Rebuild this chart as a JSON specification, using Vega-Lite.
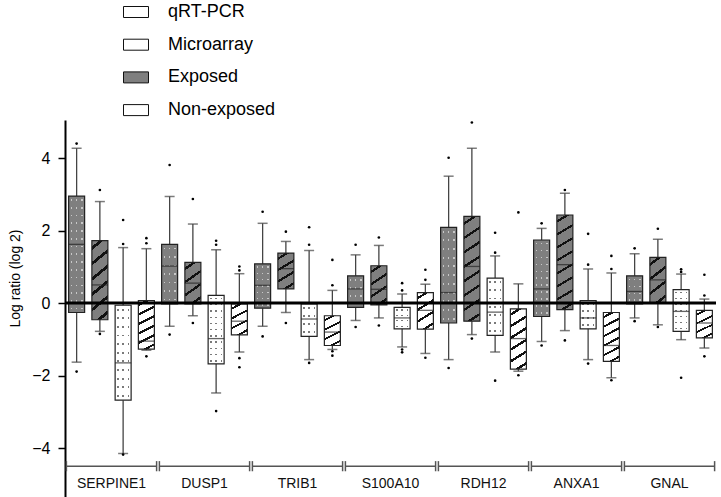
{
  "$schema": "https://vega.github.io/schema/vega-lite/v6.json",
  "width": 651,
  "height": 377,
  "autosize": {"type": "none"},
  "padding": {"left": 65, "top": 120, "right": 5, "bottom": 0},
  "background": "white",
  "config": {
    "view": {"stroke": null},
    "font": "Liberation Sans",
    "axisY": {"domainColor": "black", "domainWidth": 2, "tickColor": "black", "tickWidth": 1.5, "tickSize": 7, "labelFontSize": 16, "labelColor": "black", "labelPadding": 8, "grid": false, "titleFontSize": 14, "titleFontWeight": "normal", "titleColor": "black", "titleX": -50, "titleY": 158, "titleBaseline": "middle"}
  },
  "datasets": {
    "boxes": [
      {"gene": "SERPINE1", "group": "Exposed", "method": "qRT-PCR", "series": "Exposed qRT-PCR", "lo": -1.63, "q1": -0.26, "med": 1.62, "q3": 2.95, "hi": 4.27},
      {"gene": "SERPINE1", "group": "Exposed", "method": "Microarray", "series": "Exposed Microarray", "lo": -0.78, "q1": -0.46, "med": 0.5, "q3": 1.72, "hi": 2.8},
      {"gene": "SERPINE1", "group": "Non-exposed", "method": "qRT-PCR", "series": "Non-exposed qRT-PCR", "lo": -4.15, "q1": -2.68, "med": -1.65, "q3": -0.06, "hi": 1.53},
      {"gene": "SERPINE1", "group": "Non-exposed", "method": "Microarray", "series": "Non-exposed Microarray", "lo": -1.3, "q1": -1.27, "med": -1.05, "q3": 0.07, "hi": 1.5},
      {"gene": "DUSP1", "group": "Exposed", "method": "qRT-PCR", "series": "Exposed qRT-PCR", "lo": -0.64, "q1": -0.02, "med": 1.02, "q3": 1.62, "hi": 2.94},
      {"gene": "DUSP1", "group": "Exposed", "method": "Microarray", "series": "Exposed Microarray", "lo": -0.35, "q1": -0.02, "med": 0.55, "q3": 1.12, "hi": 2.18},
      {"gene": "DUSP1", "group": "Non-exposed", "method": "qRT-PCR", "series": "Non-exposed qRT-PCR", "lo": -2.48, "q1": -1.68, "med": -0.98, "q3": 0.21, "hi": 1.47},
      {"gene": "DUSP1", "group": "Non-exposed", "method": "Microarray", "series": "Non-exposed Microarray", "lo": -1.35, "q1": -0.88, "med": -0.5, "q3": -0.02, "hi": 0.81},
      {"gene": "TRIB1", "group": "Exposed", "method": "qRT-PCR", "series": "Exposed qRT-PCR", "lo": -0.64, "q1": -0.14, "med": 0.49, "q3": 1.08, "hi": 2.2},
      {"gene": "TRIB1", "group": "Exposed", "method": "Microarray", "series": "Exposed Microarray", "lo": -0.26, "q1": 0.39, "med": 0.95, "q3": 1.38, "hi": 1.7},
      {"gene": "TRIB1", "group": "Non-exposed", "method": "qRT-PCR", "series": "Non-exposed qRT-PCR", "lo": -1.56, "q1": -0.92, "med": -0.44, "q3": -0.02, "hi": 1.45},
      {"gene": "TRIB1", "group": "Non-exposed", "method": "Microarray", "series": "Non-exposed Microarray", "lo": -1.28, "q1": -1.17, "med": -0.8, "q3": -0.35, "hi": 0.35},
      {"gene": "S100A10", "group": "Exposed", "method": "qRT-PCR", "series": "Exposed qRT-PCR", "lo": -0.48, "q1": -0.12, "med": 0.39, "q3": 0.75, "hi": 1.33},
      {"gene": "S100A10", "group": "Exposed", "method": "Microarray", "series": "Exposed Microarray", "lo": -0.41, "q1": -0.05, "med": 0.38, "q3": 1.03, "hi": 1.59},
      {"gene": "S100A10", "group": "Non-exposed", "method": "qRT-PCR", "series": "Non-exposed qRT-PCR", "lo": -1.21, "q1": -0.71, "med": -0.41, "q3": -0.12, "hi": 0.25},
      {"gene": "S100A10", "group": "Non-exposed", "method": "Microarray", "series": "Non-exposed Microarray", "lo": -1.39, "q1": -0.72, "med": -0.2, "q3": 0.29, "hi": 0.52},
      {"gene": "RDH12", "group": "Exposed", "method": "qRT-PCR", "series": "Exposed qRT-PCR", "lo": -1.56, "q1": -0.55, "med": 0.29, "q3": 2.09, "hi": 3.5},
      {"gene": "RDH12", "group": "Exposed", "method": "Microarray", "series": "Exposed Microarray", "lo": -0.87, "q1": -0.5, "med": 1.01, "q3": 2.39, "hi": 4.27},
      {"gene": "RDH12", "group": "Non-exposed", "method": "qRT-PCR", "series": "Non-exposed qRT-PCR", "lo": -1.35, "q1": -0.89, "med": -0.25, "q3": 0.69, "hi": 1.3},
      {"gene": "RDH12", "group": "Non-exposed", "method": "Microarray", "series": "Non-exposed Microarray", "lo": -1.88, "q1": -1.82, "med": -0.98, "q3": -0.16, "hi": 0.53},
      {"gene": "ANXA1", "group": "Exposed", "method": "qRT-PCR", "series": "Exposed qRT-PCR", "lo": -1.06, "q1": -0.37, "med": 0.39, "q3": 1.74, "hi": 2.06},
      {"gene": "ANXA1", "group": "Exposed", "method": "Microarray", "series": "Exposed Microarray", "lo": -0.76, "q1": -0.18, "med": 1.06, "q3": 2.43, "hi": 3.03},
      {"gene": "ANXA1", "group": "Non-exposed", "method": "qRT-PCR", "series": "Non-exposed qRT-PCR", "lo": -1.56, "q1": -0.71, "med": -0.41, "q3": 0.07, "hi": 0.94},
      {"gene": "ANXA1", "group": "Non-exposed", "method": "Microarray", "series": "Non-exposed Microarray", "lo": -2.06, "q1": -1.61, "med": -1.17, "q3": -0.26, "hi": 0.83},
      {"gene": "GNAL", "group": "Exposed", "method": "qRT-PCR", "series": "Exposed qRT-PCR", "lo": -0.41, "q1": -0.02, "med": 0.32, "q3": 0.75, "hi": 1.36},
      {"gene": "GNAL", "group": "Exposed", "method": "Microarray", "series": "Exposed Microarray", "lo": -0.6, "q1": 0.0, "med": 0.64, "q3": 1.26, "hi": 1.76},
      {"gene": "GNAL", "group": "Non-exposed", "method": "qRT-PCR", "series": "Non-exposed qRT-PCR", "lo": -1.01, "q1": -0.78, "med": -0.23, "q3": 0.37, "hi": 0.8},
      {"gene": "GNAL", "group": "Non-exposed", "method": "Microarray", "series": "Non-exposed Microarray", "lo": -1.24, "q1": -0.96, "med": -0.55, "q3": -0.2, "hi": 0.11}
    ],
    "outliers": [
      {"gene": "SERPINE1", "series": "Exposed qRT-PCR", "value": 4.4},
      {"gene": "SERPINE1", "series": "Exposed qRT-PCR", "value": -1.89},
      {"gene": "SERPINE1", "series": "Exposed Microarray", "value": 3.12},
      {"gene": "SERPINE1", "series": "Exposed Microarray", "value": -0.85},
      {"gene": "SERPINE1", "series": "Non-exposed qRT-PCR", "value": 2.29},
      {"gene": "SERPINE1", "series": "Non-exposed qRT-PCR", "value": 1.63},
      {"gene": "SERPINE1", "series": "Non-exposed qRT-PCR", "value": -4.18},
      {"gene": "SERPINE1", "series": "Non-exposed Microarray", "value": 1.79},
      {"gene": "SERPINE1", "series": "Non-exposed Microarray", "value": 1.65},
      {"gene": "SERPINE1", "series": "Non-exposed Microarray", "value": -1.47},
      {"gene": "DUSP1", "series": "Exposed qRT-PCR", "value": 3.81},
      {"gene": "DUSP1", "series": "Exposed qRT-PCR", "value": -0.87},
      {"gene": "DUSP1", "series": "Exposed Microarray", "value": 2.87},
      {"gene": "DUSP1", "series": "Exposed Microarray", "value": -0.55},
      {"gene": "DUSP1", "series": "Non-exposed qRT-PCR", "value": 1.72},
      {"gene": "DUSP1", "series": "Non-exposed qRT-PCR", "value": 1.61},
      {"gene": "DUSP1", "series": "Non-exposed qRT-PCR", "value": -2.98},
      {"gene": "DUSP1", "series": "Non-exposed Microarray", "value": 1.01},
      {"gene": "DUSP1", "series": "Non-exposed Microarray", "value": 0.9},
      {"gene": "DUSP1", "series": "Non-exposed Microarray", "value": -1.52},
      {"gene": "DUSP1", "series": "Non-exposed Microarray", "value": -1.77},
      {"gene": "TRIB1", "series": "Exposed qRT-PCR", "value": 2.52},
      {"gene": "TRIB1", "series": "Exposed qRT-PCR", "value": -0.92},
      {"gene": "TRIB1", "series": "Exposed Microarray", "value": 1.97},
      {"gene": "TRIB1", "series": "Exposed Microarray", "value": -0.55},
      {"gene": "TRIB1", "series": "Non-exposed qRT-PCR", "value": 2.09},
      {"gene": "TRIB1", "series": "Non-exposed qRT-PCR", "value": 1.61},
      {"gene": "TRIB1", "series": "Non-exposed qRT-PCR", "value": -1.65},
      {"gene": "TRIB1", "series": "Non-exposed Microarray", "value": 1.19},
      {"gene": "TRIB1", "series": "Non-exposed Microarray", "value": 0.49},
      {"gene": "TRIB1", "series": "Non-exposed Microarray", "value": -1.33},
      {"gene": "TRIB1", "series": "Non-exposed Microarray", "value": -1.45},
      {"gene": "S100A10", "series": "Exposed qRT-PCR", "value": 1.61},
      {"gene": "S100A10", "series": "Exposed qRT-PCR", "value": -0.66},
      {"gene": "S100A10", "series": "Exposed Microarray", "value": 1.81},
      {"gene": "S100A10", "series": "Exposed Microarray", "value": -0.62},
      {"gene": "S100A10", "series": "Non-exposed qRT-PCR", "value": 0.55},
      {"gene": "S100A10", "series": "Non-exposed qRT-PCR", "value": 0.35},
      {"gene": "S100A10", "series": "Non-exposed qRT-PCR", "value": -1.28},
      {"gene": "S100A10", "series": "Non-exposed qRT-PCR", "value": -1.36},
      {"gene": "S100A10", "series": "Non-exposed Microarray", "value": 0.92},
      {"gene": "S100A10", "series": "Non-exposed Microarray", "value": 0.64},
      {"gene": "S100A10", "series": "Non-exposed Microarray", "value": -1.51},
      {"gene": "RDH12", "series": "Exposed qRT-PCR", "value": 4.01},
      {"gene": "RDH12", "series": "Exposed qRT-PCR", "value": -1.79},
      {"gene": "RDH12", "series": "Exposed Microarray", "value": 4.98},
      {"gene": "RDH12", "series": "Exposed Microarray", "value": -0.98},
      {"gene": "RDH12", "series": "Non-exposed qRT-PCR", "value": 1.94},
      {"gene": "RDH12", "series": "Non-exposed qRT-PCR", "value": 1.39},
      {"gene": "RDH12", "series": "Non-exposed qRT-PCR", "value": -2.14},
      {"gene": "RDH12", "series": "Non-exposed Microarray", "value": 2.5},
      {"gene": "RDH12", "series": "Non-exposed Microarray", "value": -1.99},
      {"gene": "ANXA1", "series": "Exposed qRT-PCR", "value": 2.2},
      {"gene": "ANXA1", "series": "Exposed qRT-PCR", "value": -1.17},
      {"gene": "ANXA1", "series": "Exposed Microarray", "value": 3.12},
      {"gene": "ANXA1", "series": "Exposed Microarray", "value": -1.03},
      {"gene": "ANXA1", "series": "Non-exposed qRT-PCR", "value": 1.91},
      {"gene": "ANXA1", "series": "Non-exposed qRT-PCR", "value": 1.06},
      {"gene": "ANXA1", "series": "Non-exposed qRT-PCR", "value": -1.67},
      {"gene": "ANXA1", "series": "Non-exposed Microarray", "value": 1.3},
      {"gene": "ANXA1", "series": "Non-exposed Microarray", "value": 0.94},
      {"gene": "ANXA1", "series": "Non-exposed Microarray", "value": -2.13},
      {"gene": "GNAL", "series": "Exposed qRT-PCR", "value": 1.51},
      {"gene": "GNAL", "series": "Exposed qRT-PCR", "value": -0.5},
      {"gene": "GNAL", "series": "Exposed Microarray", "value": 2.05},
      {"gene": "GNAL", "series": "Exposed Microarray", "value": -0.66},
      {"gene": "GNAL", "series": "Non-exposed qRT-PCR", "value": 0.93},
      {"gene": "GNAL", "series": "Non-exposed qRT-PCR", "value": 0.86},
      {"gene": "GNAL", "series": "Non-exposed qRT-PCR", "value": -2.06},
      {"gene": "GNAL", "series": "Non-exposed Microarray", "value": 0.78},
      {"gene": "GNAL", "series": "Non-exposed Microarray", "value": 0.21},
      {"gene": "GNAL", "series": "Non-exposed Microarray", "value": -1.47}
    ],
    "genes": [
      {"gene": "SERPINE1"}, {"gene": "DUSP1"}, {"gene": "TRIB1"}, {"gene": "S100A10"}, {"gene": "RDH12"}, {"gene": "ANXA1"}, {"gene": "GNAL"}
    ],
    "legend": [
      {"item": "qRT-PCR"}, {"item": "Microarray"}, {"item": "Exposed"}, {"item": "Non-exposed"}
    ]
  },
  "layer": [
    {
      "data": {"name": "boxes"},
      "mark": {"type": "rule", "color": "#444", "strokeWidth": 1.3},
      "encoding": {
        "x": {"field": "gene", "type": "nominal", "sort": ["SERPINE1", "DUSP1", "TRIB1", "S100A10", "RDH12", "ANXA1", "GNAL"], "scale": {"paddingInner": 0, "paddingOuter": 0}, "axis": null},
        "xOffset": {"field": "series", "type": "nominal", "sort": ["Exposed qRT-PCR", "Exposed Microarray", "Non-exposed qRT-PCR", "Non-exposed Microarray"], "scale": {"paddingInner": 0, "paddingOuter": 0}},
        "y": {"field": "lo", "type": "quantitative", "scale": {"domain": [-5.35, 5.05], "nice": false, "zero": false}, "axis": {"values": [-4, -2, 0, 2, 4], "title": "Log ratio (log 2)"}},
        "y2": {"field": "hi"}
      }
    },
    {
      "data": {"name": "boxes"},
      "mark": {"type": "tick", "color": "#444", "size": 10, "thickness": 1.5},
      "encoding": {
        "x": {"field": "gene", "type": "nominal", "sort": ["SERPINE1", "DUSP1", "TRIB1", "S100A10", "RDH12", "ANXA1", "GNAL"], "axis": null},
        "xOffset": {"field": "series", "type": "nominal", "sort": ["Exposed qRT-PCR", "Exposed Microarray", "Non-exposed qRT-PCR", "Non-exposed Microarray"]},
        "y": {"field": "lo", "type": "quantitative", "axis": {"values": [-4, -2, 0, 2, 4], "title": "Log ratio (log 2)"}}
      }
    },
    {
      "data": {"name": "boxes"},
      "mark": {"type": "tick", "color": "#444", "size": 10, "thickness": 1.5},
      "encoding": {
        "x": {"field": "gene", "type": "nominal", "sort": ["SERPINE1", "DUSP1", "TRIB1", "S100A10", "RDH12", "ANXA1", "GNAL"], "axis": null},
        "xOffset": {"field": "series", "type": "nominal", "sort": ["Exposed qRT-PCR", "Exposed Microarray", "Non-exposed qRT-PCR", "Non-exposed Microarray"]},
        "y": {"field": "hi", "type": "quantitative", "axis": {"values": [-4, -2, 0, 2, 4], "title": "Log ratio (log 2)"}}
      }
    },
    {
      "data": {"name": "boxes"},
      "mark": {"type": "bar", "width": 16, "strokeWidth": 0},
      "encoding": {
        "x": {"field": "gene", "type": "nominal", "sort": ["SERPINE1", "DUSP1", "TRIB1", "S100A10", "RDH12", "ANXA1", "GNAL"], "axis": null},
        "xOffset": {"field": "series", "type": "nominal", "sort": ["Exposed qRT-PCR", "Exposed Microarray", "Non-exposed qRT-PCR", "Non-exposed Microarray"]},
        "y": {"field": "q1", "type": "quantitative", "axis": {"values": [-4, -2, 0, 2, 4], "title": "Log ratio (log 2)"}},
        "y2": {"field": "q3"},
        "fill": {
          "condition": [
            {"test": "datum.method === 'Microarray' && datum.group === 'Exposed' && datum.q3 - datum.q1 < 1.3", "value": {"gradient": "linear", "x1": 0, "y1": 0, "x2": 0.3196, "y2": 1.1837, "stops": [
              {"offset": 0, "color": "#7f7f7f"}, {"offset": 0.098, "color": "#7f7f7f"}, {"offset": 0.098, "color": "#111111"}, {"offset": 0.152, "color": "#111111"}, {"offset": 0.152, "color": "#7f7f7f"},
              {"offset": 0.348, "color": "#7f7f7f"}, {"offset": 0.348, "color": "#111111"}, {"offset": 0.402, "color": "#111111"}, {"offset": 0.402, "color": "#7f7f7f"},
              {"offset": 0.598, "color": "#7f7f7f"}, {"offset": 0.598, "color": "#111111"}, {"offset": 0.652, "color": "#111111"}, {"offset": 0.652, "color": "#7f7f7f"},
              {"offset": 0.848, "color": "#7f7f7f"}, {"offset": 0.848, "color": "#111111"}, {"offset": 0.902, "color": "#111111"}, {"offset": 0.902, "color": "#7f7f7f"}, {"offset": 1, "color": "#7f7f7f"}]}},
            {"test": "datum.method === 'Microarray' && datum.group === 'Exposed' && datum.q3 - datum.q1 < 2.2", "value": {"gradient": "linear", "x1": 0, "y1": 0, "x2": 0.1896, "y2": 1.1353, "stops": [
              {"offset": 0, "color": "#7f7f7f"}, {"offset": 0.063, "color": "#7f7f7f"}, {"offset": 0.063, "color": "#111111"}, {"offset": 0.103, "color": "#111111"}, {"offset": 0.103, "color": "#7f7f7f"},
              {"offset": 0.23, "color": "#7f7f7f"}, {"offset": 0.23, "color": "#111111"}, {"offset": 0.27, "color": "#111111"}, {"offset": 0.27, "color": "#7f7f7f"},
              {"offset": 0.397, "color": "#7f7f7f"}, {"offset": 0.397, "color": "#111111"}, {"offset": 0.437, "color": "#111111"}, {"offset": 0.437, "color": "#7f7f7f"},
              {"offset": 0.563, "color": "#7f7f7f"}, {"offset": 0.563, "color": "#111111"}, {"offset": 0.603, "color": "#111111"}, {"offset": 0.603, "color": "#7f7f7f"},
              {"offset": 0.73, "color": "#7f7f7f"}, {"offset": 0.73, "color": "#111111"}, {"offset": 0.77, "color": "#111111"}, {"offset": 0.77, "color": "#7f7f7f"},
              {"offset": 0.897, "color": "#7f7f7f"}, {"offset": 0.897, "color": "#111111"}, {"offset": 0.937, "color": "#111111"}, {"offset": 0.937, "color": "#7f7f7f"}, {"offset": 1, "color": "#7f7f7f"}]}},
            {"test": "datum.method === 'Microarray' && datum.group === 'Exposed'", "value": {"gradient": "linear", "x1": 0, "y1": 0, "x2": 0.1089, "y2": 1.0891, "stops": [
              {"offset": 0, "color": "#7f7f7f"}, {"offset": 0.0505, "color": "#7f7f7f"}, {"offset": 0.0505, "color": "#111111"}, {"offset": 0.0745, "color": "#111111"}, {"offset": 0.0745, "color": "#7f7f7f"},
              {"offset": 0.1755, "color": "#7f7f7f"}, {"offset": 0.1755, "color": "#111111"}, {"offset": 0.1995, "color": "#111111"}, {"offset": 0.1995, "color": "#7f7f7f"},
              {"offset": 0.3005, "color": "#7f7f7f"}, {"offset": 0.3005, "color": "#111111"}, {"offset": 0.3245, "color": "#111111"}, {"offset": 0.3245, "color": "#7f7f7f"},
              {"offset": 0.4255, "color": "#7f7f7f"}, {"offset": 0.4255, "color": "#111111"}, {"offset": 0.4495, "color": "#111111"}, {"offset": 0.4495, "color": "#7f7f7f"},
              {"offset": 0.5505, "color": "#7f7f7f"}, {"offset": 0.5505, "color": "#111111"}, {"offset": 0.5745, "color": "#111111"}, {"offset": 0.5745, "color": "#7f7f7f"},
              {"offset": 0.6755, "color": "#7f7f7f"}, {"offset": 0.6755, "color": "#111111"}, {"offset": 0.6995, "color": "#111111"}, {"offset": 0.6995, "color": "#7f7f7f"},
              {"offset": 0.8005, "color": "#7f7f7f"}, {"offset": 0.8005, "color": "#111111"}, {"offset": 0.8245, "color": "#111111"}, {"offset": 0.8245, "color": "#7f7f7f"},
              {"offset": 0.9255, "color": "#7f7f7f"}, {"offset": 0.9255, "color": "#111111"}, {"offset": 0.9495, "color": "#111111"}, {"offset": 0.9495, "color": "#7f7f7f"}, {"offset": 1, "color": "#7f7f7f"}]}},
            {"test": "datum.method === 'Microarray' && datum.q3 - datum.q1 < 1.3", "value": {"gradient": "linear", "x1": 0, "y1": 0, "x2": 0.3196, "y2": 1.1837, "stops": [
              {"offset": 0, "color": "#ffffff"}, {"offset": 0.098, "color": "#ffffff"}, {"offset": 0.098, "color": "#111111"}, {"offset": 0.152, "color": "#111111"}, {"offset": 0.152, "color": "#ffffff"},
              {"offset": 0.348, "color": "#ffffff"}, {"offset": 0.348, "color": "#111111"}, {"offset": 0.402, "color": "#111111"}, {"offset": 0.402, "color": "#ffffff"},
              {"offset": 0.598, "color": "#ffffff"}, {"offset": 0.598, "color": "#111111"}, {"offset": 0.652, "color": "#111111"}, {"offset": 0.652, "color": "#ffffff"},
              {"offset": 0.848, "color": "#ffffff"}, {"offset": 0.848, "color": "#111111"}, {"offset": 0.902, "color": "#111111"}, {"offset": 0.902, "color": "#ffffff"}, {"offset": 1, "color": "#ffffff"}]}},
            {"test": "datum.method === 'Microarray' && datum.q3 - datum.q1 < 2.2", "value": {"gradient": "linear", "x1": 0, "y1": 0, "x2": 0.1896, "y2": 1.1353, "stops": [
              {"offset": 0, "color": "#ffffff"}, {"offset": 0.063, "color": "#ffffff"}, {"offset": 0.063, "color": "#111111"}, {"offset": 0.103, "color": "#111111"}, {"offset": 0.103, "color": "#ffffff"},
              {"offset": 0.23, "color": "#ffffff"}, {"offset": 0.23, "color": "#111111"}, {"offset": 0.27, "color": "#111111"}, {"offset": 0.27, "color": "#ffffff"},
              {"offset": 0.397, "color": "#ffffff"}, {"offset": 0.397, "color": "#111111"}, {"offset": 0.437, "color": "#111111"}, {"offset": 0.437, "color": "#ffffff"},
              {"offset": 0.563, "color": "#ffffff"}, {"offset": 0.563, "color": "#111111"}, {"offset": 0.603, "color": "#111111"}, {"offset": 0.603, "color": "#ffffff"},
              {"offset": 0.73, "color": "#ffffff"}, {"offset": 0.73, "color": "#111111"}, {"offset": 0.77, "color": "#111111"}, {"offset": 0.77, "color": "#ffffff"},
              {"offset": 0.897, "color": "#ffffff"}, {"offset": 0.897, "color": "#111111"}, {"offset": 0.937, "color": "#111111"}, {"offset": 0.937, "color": "#ffffff"}, {"offset": 1, "color": "#ffffff"}]}},
            {"test": "datum.method === 'Microarray'", "value": {"gradient": "linear", "x1": 0, "y1": 0, "x2": 0.1089, "y2": 1.0891, "stops": [
              {"offset": 0, "color": "#ffffff"}, {"offset": 0.0505, "color": "#ffffff"}, {"offset": 0.0505, "color": "#111111"}, {"offset": 0.0745, "color": "#111111"}, {"offset": 0.0745, "color": "#ffffff"},
              {"offset": 0.1755, "color": "#ffffff"}, {"offset": 0.1755, "color": "#111111"}, {"offset": 0.1995, "color": "#111111"}, {"offset": 0.1995, "color": "#ffffff"},
              {"offset": 0.3005, "color": "#ffffff"}, {"offset": 0.3005, "color": "#111111"}, {"offset": 0.3245, "color": "#111111"}, {"offset": 0.3245, "color": "#ffffff"},
              {"offset": 0.4255, "color": "#ffffff"}, {"offset": 0.4255, "color": "#111111"}, {"offset": 0.4495, "color": "#111111"}, {"offset": 0.4495, "color": "#ffffff"},
              {"offset": 0.5505, "color": "#ffffff"}, {"offset": 0.5505, "color": "#111111"}, {"offset": 0.5745, "color": "#111111"}, {"offset": 0.5745, "color": "#ffffff"},
              {"offset": 0.6755, "color": "#ffffff"}, {"offset": 0.6755, "color": "#111111"}, {"offset": 0.6995, "color": "#111111"}, {"offset": 0.6995, "color": "#ffffff"},
              {"offset": 0.8005, "color": "#ffffff"}, {"offset": 0.8005, "color": "#111111"}, {"offset": 0.8245, "color": "#111111"}, {"offset": 0.8245, "color": "#ffffff"},
              {"offset": 0.9255, "color": "#ffffff"}, {"offset": 0.9255, "color": "#111111"}, {"offset": 0.9495, "color": "#111111"}, {"offset": 0.9495, "color": "#ffffff"}, {"offset": 1, "color": "#ffffff"}]}},
            {"test": "datum.group === 'Exposed'", "value": "#7f7f7f"}
          ],
          "value": "#ffffff"
        }
      }
    },
    {
      "data": {"name": "boxes"},
      "transform": [{"filter": "datum.method === 'qRT-PCR'"}],
      "mark": {"type": "bar", "width": 16, "strokeWidth": 0},
      "encoding": {
        "x": {"field": "gene", "type": "nominal", "sort": ["SERPINE1", "DUSP1", "TRIB1", "S100A10", "RDH12", "ANXA1", "GNAL"], "axis": null},
        "xOffset": {"field": "series", "type": "nominal", "sort": ["Exposed qRT-PCR", "Exposed Microarray", "Non-exposed qRT-PCR", "Non-exposed Microarray"]},
        "y": {"field": "q1", "type": "quantitative", "axis": {"values": [-4, -2, 0, 2, 4], "title": "Log ratio (log 2)"}},
        "y2": {"field": "q3"},
        "fill": {
          "condition": {"test": "datum.group === 'Exposed'", "value": {"gradient": "linear", "x1": 0, "y1": 0, "x2": 1, "y2": 0, "stops": [
            {"offset": 0, "color": "rgba(0,0,0,0)"}, {"offset": 0.12, "color": "rgba(0,0,0,0)"}, {"offset": 0.12, "color": "#c8c8c8"}, {"offset": 0.22, "color": "#c8c8c8"}, {"offset": 0.22, "color": "rgba(0,0,0,0)"},
            {"offset": 0.45, "color": "rgba(0,0,0,0)"}, {"offset": 0.45, "color": "#c8c8c8"}, {"offset": 0.55, "color": "#c8c8c8"}, {"offset": 0.55, "color": "rgba(0,0,0,0)"},
            {"offset": 0.78, "color": "rgba(0,0,0,0)"}, {"offset": 0.78, "color": "#c8c8c8"}, {"offset": 0.88, "color": "#c8c8c8"}, {"offset": 0.88, "color": "rgba(0,0,0,0)"}, {"offset": 1, "color": "rgba(0,0,0,0)"}]}},
          "value": {"gradient": "linear", "x1": 0, "y1": 0, "x2": 1, "y2": 0, "stops": [
            {"offset": 0, "color": "rgba(0,0,0,0)"}, {"offset": 0.12, "color": "rgba(0,0,0,0)"}, {"offset": 0.12, "color": "#7a7a7a"}, {"offset": 0.22, "color": "#7a7a7a"}, {"offset": 0.22, "color": "rgba(0,0,0,0)"},
            {"offset": 0.45, "color": "rgba(0,0,0,0)"}, {"offset": 0.45, "color": "#7a7a7a"}, {"offset": 0.55, "color": "#7a7a7a"}, {"offset": 0.55, "color": "rgba(0,0,0,0)"},
            {"offset": 0.78, "color": "rgba(0,0,0,0)"}, {"offset": 0.78, "color": "#7a7a7a"}, {"offset": 0.88, "color": "#7a7a7a"}, {"offset": 0.88, "color": "rgba(0,0,0,0)"}, {"offset": 1, "color": "rgba(0,0,0,0)"}]}
        }
      }
    },
    {
      "data": {"name": "boxes"},
      "transform": [{"filter": "datum.method === 'qRT-PCR'"}],
      "mark": {"type": "bar", "width": 16, "strokeWidth": 0},
      "encoding": {
        "x": {"field": "gene", "type": "nominal", "sort": ["SERPINE1", "DUSP1", "TRIB1", "S100A10", "RDH12", "ANXA1", "GNAL"], "axis": null},
        "xOffset": {"field": "series", "type": "nominal", "sort": ["Exposed qRT-PCR", "Exposed Microarray", "Non-exposed qRT-PCR", "Non-exposed Microarray"]},
        "y": {"field": "q1", "type": "quantitative", "axis": {"values": [-4, -2, 0, 2, 4], "title": "Log ratio (log 2)"}},
        "y2": {"field": "q3"},
        "fill": {
          "condition": [
            {"test": "datum.group === 'Exposed' && datum.q3 - datum.q1 < 1.0", "value": {"gradient": "linear", "x1": 0, "y1": 0, "x2": 0, "y2": 1, "stops": [
              {"offset": 0, "color": "#7f7f7f"}, {"offset": 0.096, "color": "#7f7f7f"}, {"offset": 0.096, "color": "rgba(0,0,0,0)"}, {"offset": 0.154, "color": "rgba(0,0,0,0)"}, {"offset": 0.154, "color": "#7f7f7f"},
              {"offset": 0.346, "color": "#7f7f7f"}, {"offset": 0.346, "color": "rgba(0,0,0,0)"}, {"offset": 0.404, "color": "rgba(0,0,0,0)"}, {"offset": 0.404, "color": "#7f7f7f"},
              {"offset": 0.596, "color": "#7f7f7f"}, {"offset": 0.596, "color": "rgba(0,0,0,0)"}, {"offset": 0.654, "color": "rgba(0,0,0,0)"}, {"offset": 0.654, "color": "#7f7f7f"},
              {"offset": 0.846, "color": "#7f7f7f"}, {"offset": 0.846, "color": "rgba(0,0,0,0)"}, {"offset": 0.904, "color": "rgba(0,0,0,0)"}, {"offset": 0.904, "color": "#7f7f7f"}, {"offset": 1, "color": "#7f7f7f"}]}},
            {"test": "datum.group === 'Exposed' && datum.q3 - datum.q1 < 1.8", "value": {"gradient": "linear", "x1": 0, "y1": 0, "x2": 0, "y2": 1, "stops": [
              {"offset": 0, "color": "#7f7f7f"}, {"offset": 0.0564, "color": "#7f7f7f"}, {"offset": 0.0564, "color": "rgba(0,0,0,0)"}, {"offset": 0.0864, "color": "rgba(0,0,0,0)"}, {"offset": 0.0864, "color": "#7f7f7f"},
              {"offset": 0.1993, "color": "#7f7f7f"}, {"offset": 0.1993, "color": "rgba(0,0,0,0)"}, {"offset": 0.2293, "color": "rgba(0,0,0,0)"}, {"offset": 0.2293, "color": "#7f7f7f"},
              {"offset": 0.3421, "color": "#7f7f7f"}, {"offset": 0.3421, "color": "rgba(0,0,0,0)"}, {"offset": 0.3721, "color": "rgba(0,0,0,0)"}, {"offset": 0.3721, "color": "#7f7f7f"},
              {"offset": 0.485, "color": "#7f7f7f"}, {"offset": 0.485, "color": "rgba(0,0,0,0)"}, {"offset": 0.515, "color": "rgba(0,0,0,0)"}, {"offset": 0.515, "color": "#7f7f7f"},
              {"offset": 0.6279, "color": "#7f7f7f"}, {"offset": 0.6279, "color": "rgba(0,0,0,0)"}, {"offset": 0.6579, "color": "rgba(0,0,0,0)"}, {"offset": 0.6579, "color": "#7f7f7f"},
              {"offset": 0.7707, "color": "#7f7f7f"}, {"offset": 0.7707, "color": "rgba(0,0,0,0)"}, {"offset": 0.8007, "color": "rgba(0,0,0,0)"}, {"offset": 0.8007, "color": "#7f7f7f"},
              {"offset": 0.9136, "color": "#7f7f7f"}, {"offset": 0.9136, "color": "rgba(0,0,0,0)"}, {"offset": 0.9436, "color": "rgba(0,0,0,0)"}, {"offset": 0.9436, "color": "#7f7f7f"}, {"offset": 1, "color": "#7f7f7f"}]}},
            {"test": "datum.group === 'Exposed' && datum.q3 - datum.q1 < 2.7", "value": {"gradient": "linear", "x1": 0, "y1": 0, "x2": 0, "y2": 1, "stops": [
              {"offset": 0, "color": "#7f7f7f"}, {"offset": 0.0355, "color": "#7f7f7f"}, {"offset": 0.0355, "color": "rgba(0,0,0,0)"}, {"offset": 0.0555, "color": "rgba(0,0,0,0)"}, {"offset": 0.0555, "color": "#7f7f7f"},
              {"offset": 0.1264, "color": "#7f7f7f"}, {"offset": 0.1264, "color": "rgba(0,0,0,0)"}, {"offset": 0.1464, "color": "rgba(0,0,0,0)"}, {"offset": 0.1464, "color": "#7f7f7f"},
              {"offset": 0.2173, "color": "#7f7f7f"}, {"offset": 0.2173, "color": "rgba(0,0,0,0)"}, {"offset": 0.2373, "color": "rgba(0,0,0,0)"}, {"offset": 0.2373, "color": "#7f7f7f"},
              {"offset": 0.3082, "color": "#7f7f7f"}, {"offset": 0.3082, "color": "rgba(0,0,0,0)"}, {"offset": 0.3282, "color": "rgba(0,0,0,0)"}, {"offset": 0.3282, "color": "#7f7f7f"},
              {"offset": 0.3991, "color": "#7f7f7f"}, {"offset": 0.3991, "color": "rgba(0,0,0,0)"}, {"offset": 0.4191, "color": "rgba(0,0,0,0)"}, {"offset": 0.4191, "color": "#7f7f7f"},
              {"offset": 0.49, "color": "#7f7f7f"}, {"offset": 0.49, "color": "rgba(0,0,0,0)"}, {"offset": 0.51, "color": "rgba(0,0,0,0)"}, {"offset": 0.51, "color": "#7f7f7f"},
              {"offset": 0.5809, "color": "#7f7f7f"}, {"offset": 0.5809, "color": "rgba(0,0,0,0)"}, {"offset": 0.6009, "color": "rgba(0,0,0,0)"}, {"offset": 0.6009, "color": "#7f7f7f"},
              {"offset": 0.6718, "color": "#7f7f7f"}, {"offset": 0.6718, "color": "rgba(0,0,0,0)"}, {"offset": 0.6918, "color": "rgba(0,0,0,0)"}, {"offset": 0.6918, "color": "#7f7f7f"},
              {"offset": 0.7627, "color": "#7f7f7f"}, {"offset": 0.7627, "color": "rgba(0,0,0,0)"}, {"offset": 0.7827, "color": "rgba(0,0,0,0)"}, {"offset": 0.7827, "color": "#7f7f7f"},
              {"offset": 0.8536, "color": "#7f7f7f"}, {"offset": 0.8536, "color": "rgba(0,0,0,0)"}, {"offset": 0.8736, "color": "rgba(0,0,0,0)"}, {"offset": 0.8736, "color": "#7f7f7f"},
              {"offset": 0.9445, "color": "#7f7f7f"}, {"offset": 0.9445, "color": "rgba(0,0,0,0)"}, {"offset": 0.9645, "color": "rgba(0,0,0,0)"}, {"offset": 0.9645, "color": "#7f7f7f"}, {"offset": 1, "color": "#7f7f7f"}]}},
            {"test": "datum.group === 'Exposed'", "value": {"gradient": "linear", "x1": 0, "y1": 0, "x2": 0, "y2": 1, "stops": [
              {"offset": 0, "color": "#7f7f7f"}, {"offset": 0.0263, "color": "#7f7f7f"}, {"offset": 0.0263, "color": "rgba(0,0,0,0)"}, {"offset": 0.0403, "color": "rgba(0,0,0,0)"}, {"offset": 0.0403, "color": "#7f7f7f"},
              {"offset": 0.093, "color": "#7f7f7f"}, {"offset": 0.093, "color": "rgba(0,0,0,0)"}, {"offset": 0.107, "color": "rgba(0,0,0,0)"}, {"offset": 0.107, "color": "#7f7f7f"},
              {"offset": 0.1597, "color": "#7f7f7f"}, {"offset": 0.1597, "color": "rgba(0,0,0,0)"}, {"offset": 0.1737, "color": "rgba(0,0,0,0)"}, {"offset": 0.1737, "color": "#7f7f7f"},
              {"offset": 0.2263, "color": "#7f7f7f"}, {"offset": 0.2263, "color": "rgba(0,0,0,0)"}, {"offset": 0.2403, "color": "rgba(0,0,0,0)"}, {"offset": 0.2403, "color": "#7f7f7f"},
              {"offset": 0.293, "color": "#7f7f7f"}, {"offset": 0.293, "color": "rgba(0,0,0,0)"}, {"offset": 0.307, "color": "rgba(0,0,0,0)"}, {"offset": 0.307, "color": "#7f7f7f"},
              {"offset": 0.3597, "color": "#7f7f7f"}, {"offset": 0.3597, "color": "rgba(0,0,0,0)"}, {"offset": 0.3737, "color": "rgba(0,0,0,0)"}, {"offset": 0.3737, "color": "#7f7f7f"},
              {"offset": 0.4263, "color": "#7f7f7f"}, {"offset": 0.4263, "color": "rgba(0,0,0,0)"}, {"offset": 0.4403, "color": "rgba(0,0,0,0)"}, {"offset": 0.4403, "color": "#7f7f7f"},
              {"offset": 0.493, "color": "#7f7f7f"}, {"offset": 0.493, "color": "rgba(0,0,0,0)"}, {"offset": 0.507, "color": "rgba(0,0,0,0)"}, {"offset": 0.507, "color": "#7f7f7f"},
              {"offset": 0.5597, "color": "#7f7f7f"}, {"offset": 0.5597, "color": "rgba(0,0,0,0)"}, {"offset": 0.5737, "color": "rgba(0,0,0,0)"}, {"offset": 0.5737, "color": "#7f7f7f"},
              {"offset": 0.6263, "color": "#7f7f7f"}, {"offset": 0.6263, "color": "rgba(0,0,0,0)"}, {"offset": 0.6403, "color": "rgba(0,0,0,0)"}, {"offset": 0.6403, "color": "#7f7f7f"},
              {"offset": 0.693, "color": "#7f7f7f"}, {"offset": 0.693, "color": "rgba(0,0,0,0)"}, {"offset": 0.707, "color": "rgba(0,0,0,0)"}, {"offset": 0.707, "color": "#7f7f7f"},
              {"offset": 0.7597, "color": "#7f7f7f"}, {"offset": 0.7597, "color": "rgba(0,0,0,0)"}, {"offset": 0.7737, "color": "rgba(0,0,0,0)"}, {"offset": 0.7737, "color": "#7f7f7f"},
              {"offset": 0.8263, "color": "#7f7f7f"}, {"offset": 0.8263, "color": "rgba(0,0,0,0)"}, {"offset": 0.8403, "color": "rgba(0,0,0,0)"}, {"offset": 0.8403, "color": "#7f7f7f"},
              {"offset": 0.893, "color": "#7f7f7f"}, {"offset": 0.893, "color": "rgba(0,0,0,0)"}, {"offset": 0.907, "color": "rgba(0,0,0,0)"}, {"offset": 0.907, "color": "#7f7f7f"},
              {"offset": 0.9597, "color": "#7f7f7f"}, {"offset": 0.9597, "color": "rgba(0,0,0,0)"}, {"offset": 0.9737, "color": "rgba(0,0,0,0)"}, {"offset": 0.9737, "color": "#7f7f7f"}, {"offset": 1, "color": "#7f7f7f"}]}},
            {"test": "datum.q3 - datum.q1 < 1.0", "value": {"gradient": "linear", "x1": 0, "y1": 0, "x2": 0, "y2": 1, "stops": [
              {"offset": 0, "color": "#ffffff"}, {"offset": 0.096, "color": "#ffffff"}, {"offset": 0.096, "color": "rgba(0,0,0,0)"}, {"offset": 0.154, "color": "rgba(0,0,0,0)"}, {"offset": 0.154, "color": "#ffffff"},
              {"offset": 0.346, "color": "#ffffff"}, {"offset": 0.346, "color": "rgba(0,0,0,0)"}, {"offset": 0.404, "color": "rgba(0,0,0,0)"}, {"offset": 0.404, "color": "#ffffff"},
              {"offset": 0.596, "color": "#ffffff"}, {"offset": 0.596, "color": "rgba(0,0,0,0)"}, {"offset": 0.654, "color": "rgba(0,0,0,0)"}, {"offset": 0.654, "color": "#ffffff"},
              {"offset": 0.846, "color": "#ffffff"}, {"offset": 0.846, "color": "rgba(0,0,0,0)"}, {"offset": 0.904, "color": "rgba(0,0,0,0)"}, {"offset": 0.904, "color": "#ffffff"}, {"offset": 1, "color": "#ffffff"}]}},
            {"test": "datum.q3 - datum.q1 < 1.8", "value": {"gradient": "linear", "x1": 0, "y1": 0, "x2": 0, "y2": 1, "stops": [
              {"offset": 0, "color": "#ffffff"}, {"offset": 0.0564, "color": "#ffffff"}, {"offset": 0.0564, "color": "rgba(0,0,0,0)"}, {"offset": 0.0864, "color": "rgba(0,0,0,0)"}, {"offset": 0.0864, "color": "#ffffff"},
              {"offset": 0.1993, "color": "#ffffff"}, {"offset": 0.1993, "color": "rgba(0,0,0,0)"}, {"offset": 0.2293, "color": "rgba(0,0,0,0)"}, {"offset": 0.2293, "color": "#ffffff"},
              {"offset": 0.3421, "color": "#ffffff"}, {"offset": 0.3421, "color": "rgba(0,0,0,0)"}, {"offset": 0.3721, "color": "rgba(0,0,0,0)"}, {"offset": 0.3721, "color": "#ffffff"},
              {"offset": 0.485, "color": "#ffffff"}, {"offset": 0.485, "color": "rgba(0,0,0,0)"}, {"offset": 0.515, "color": "rgba(0,0,0,0)"}, {"offset": 0.515, "color": "#ffffff"},
              {"offset": 0.6279, "color": "#ffffff"}, {"offset": 0.6279, "color": "rgba(0,0,0,0)"}, {"offset": 0.6579, "color": "rgba(0,0,0,0)"}, {"offset": 0.6579, "color": "#ffffff"},
              {"offset": 0.7707, "color": "#ffffff"}, {"offset": 0.7707, "color": "rgba(0,0,0,0)"}, {"offset": 0.8007, "color": "rgba(0,0,0,0)"}, {"offset": 0.8007, "color": "#ffffff"},
              {"offset": 0.9136, "color": "#ffffff"}, {"offset": 0.9136, "color": "rgba(0,0,0,0)"}, {"offset": 0.9436, "color": "rgba(0,0,0,0)"}, {"offset": 0.9436, "color": "#ffffff"}, {"offset": 1, "color": "#ffffff"}]}},
            {"test": "datum.q3 - datum.q1 < 2.7", "value": {"gradient": "linear", "x1": 0, "y1": 0, "x2": 0, "y2": 1, "stops": [
              {"offset": 0, "color": "#ffffff"}, {"offset": 0.0355, "color": "#ffffff"}, {"offset": 0.0355, "color": "rgba(0,0,0,0)"}, {"offset": 0.0555, "color": "rgba(0,0,0,0)"}, {"offset": 0.0555, "color": "#ffffff"},
              {"offset": 0.1264, "color": "#ffffff"}, {"offset": 0.1264, "color": "rgba(0,0,0,0)"}, {"offset": 0.1464, "color": "rgba(0,0,0,0)"}, {"offset": 0.1464, "color": "#ffffff"},
              {"offset": 0.2173, "color": "#ffffff"}, {"offset": 0.2173, "color": "rgba(0,0,0,0)"}, {"offset": 0.2373, "color": "rgba(0,0,0,0)"}, {"offset": 0.2373, "color": "#ffffff"},
              {"offset": 0.3082, "color": "#ffffff"}, {"offset": 0.3082, "color": "rgba(0,0,0,0)"}, {"offset": 0.3282, "color": "rgba(0,0,0,0)"}, {"offset": 0.3282, "color": "#ffffff"},
              {"offset": 0.3991, "color": "#ffffff"}, {"offset": 0.3991, "color": "rgba(0,0,0,0)"}, {"offset": 0.4191, "color": "rgba(0,0,0,0)"}, {"offset": 0.4191, "color": "#ffffff"},
              {"offset": 0.49, "color": "#ffffff"}, {"offset": 0.49, "color": "rgba(0,0,0,0)"}, {"offset": 0.51, "color": "rgba(0,0,0,0)"}, {"offset": 0.51, "color": "#ffffff"},
              {"offset": 0.5809, "color": "#ffffff"}, {"offset": 0.5809, "color": "rgba(0,0,0,0)"}, {"offset": 0.6009, "color": "rgba(0,0,0,0)"}, {"offset": 0.6009, "color": "#ffffff"},
              {"offset": 0.6718, "color": "#ffffff"}, {"offset": 0.6718, "color": "rgba(0,0,0,0)"}, {"offset": 0.6918, "color": "rgba(0,0,0,0)"}, {"offset": 0.6918, "color": "#ffffff"},
              {"offset": 0.7627, "color": "#ffffff"}, {"offset": 0.7627, "color": "rgba(0,0,0,0)"}, {"offset": 0.7827, "color": "rgba(0,0,0,0)"}, {"offset": 0.7827, "color": "#ffffff"},
              {"offset": 0.8536, "color": "#ffffff"}, {"offset": 0.8536, "color": "rgba(0,0,0,0)"}, {"offset": 0.8736, "color": "rgba(0,0,0,0)"}, {"offset": 0.8736, "color": "#ffffff"},
              {"offset": 0.9445, "color": "#ffffff"}, {"offset": 0.9445, "color": "rgba(0,0,0,0)"}, {"offset": 0.9645, "color": "rgba(0,0,0,0)"}, {"offset": 0.9645, "color": "#ffffff"}, {"offset": 1, "color": "#ffffff"}]}}
          ],
          "value": {"gradient": "linear", "x1": 0, "y1": 0, "x2": 0, "y2": 1, "stops": [
            {"offset": 0, "color": "#ffffff"}, {"offset": 0.0263, "color": "#ffffff"}, {"offset": 0.0263, "color": "rgba(0,0,0,0)"}, {"offset": 0.0403, "color": "rgba(0,0,0,0)"}, {"offset": 0.0403, "color": "#ffffff"},
            {"offset": 0.093, "color": "#ffffff"}, {"offset": 0.093, "color": "rgba(0,0,0,0)"}, {"offset": 0.107, "color": "rgba(0,0,0,0)"}, {"offset": 0.107, "color": "#ffffff"},
            {"offset": 0.1597, "color": "#ffffff"}, {"offset": 0.1597, "color": "rgba(0,0,0,0)"}, {"offset": 0.1737, "color": "rgba(0,0,0,0)"}, {"offset": 0.1737, "color": "#ffffff"},
            {"offset": 0.2263, "color": "#ffffff"}, {"offset": 0.2263, "color": "rgba(0,0,0,0)"}, {"offset": 0.2403, "color": "rgba(0,0,0,0)"}, {"offset": 0.2403, "color": "#ffffff"},
            {"offset": 0.293, "color": "#ffffff"}, {"offset": 0.293, "color": "rgba(0,0,0,0)"}, {"offset": 0.307, "color": "rgba(0,0,0,0)"}, {"offset": 0.307, "color": "#ffffff"},
            {"offset": 0.3597, "color": "#ffffff"}, {"offset": 0.3597, "color": "rgba(0,0,0,0)"}, {"offset": 0.3737, "color": "rgba(0,0,0,0)"}, {"offset": 0.3737, "color": "#ffffff"},
            {"offset": 0.4263, "color": "#ffffff"}, {"offset": 0.4263, "color": "rgba(0,0,0,0)"}, {"offset": 0.4403, "color": "rgba(0,0,0,0)"}, {"offset": 0.4403, "color": "#ffffff"},
            {"offset": 0.493, "color": "#ffffff"}, {"offset": 0.493, "color": "rgba(0,0,0,0)"}, {"offset": 0.507, "color": "rgba(0,0,0,0)"}, {"offset": 0.507, "color": "#ffffff"},
            {"offset": 0.5597, "color": "#ffffff"}, {"offset": 0.5597, "color": "rgba(0,0,0,0)"}, {"offset": 0.5737, "color": "rgba(0,0,0,0)"}, {"offset": 0.5737, "color": "#ffffff"},
            {"offset": 0.6263, "color": "#ffffff"}, {"offset": 0.6263, "color": "rgba(0,0,0,0)"}, {"offset": 0.6403, "color": "rgba(0,0,0,0)"}, {"offset": 0.6403, "color": "#ffffff"},
            {"offset": 0.693, "color": "#ffffff"}, {"offset": 0.693, "color": "rgba(0,0,0,0)"}, {"offset": 0.707, "color": "rgba(0,0,0,0)"}, {"offset": 0.707, "color": "#ffffff"},
            {"offset": 0.7597, "color": "#ffffff"}, {"offset": 0.7597, "color": "rgba(0,0,0,0)"}, {"offset": 0.7737, "color": "rgba(0,0,0,0)"}, {"offset": 0.7737, "color": "#ffffff"},
            {"offset": 0.8263, "color": "#ffffff"}, {"offset": 0.8263, "color": "rgba(0,0,0,0)"}, {"offset": 0.8403, "color": "rgba(0,0,0,0)"}, {"offset": 0.8403, "color": "#ffffff"},
            {"offset": 0.893, "color": "#ffffff"}, {"offset": 0.893, "color": "rgba(0,0,0,0)"}, {"offset": 0.907, "color": "rgba(0,0,0,0)"}, {"offset": 0.907, "color": "#ffffff"},
            {"offset": 0.9597, "color": "#ffffff"}, {"offset": 0.9597, "color": "rgba(0,0,0,0)"}, {"offset": 0.9737, "color": "rgba(0,0,0,0)"}, {"offset": 0.9737, "color": "#ffffff"}, {"offset": 1, "color": "#ffffff"}]}
        }
      }
    },
    {
      "data": {"name": "boxes"},
      "mark": {"type": "bar", "width": 16, "fillOpacity": 0, "stroke": "#222", "strokeWidth": 1.2},
      "encoding": {
        "x": {"field": "gene", "type": "nominal", "sort": ["SERPINE1", "DUSP1", "TRIB1", "S100A10", "RDH12", "ANXA1", "GNAL"], "axis": null},
        "xOffset": {"field": "series", "type": "nominal", "sort": ["Exposed qRT-PCR", "Exposed Microarray", "Non-exposed qRT-PCR", "Non-exposed Microarray"]},
        "y": {"field": "q1", "type": "quantitative", "axis": {"values": [-4, -2, 0, 2, 4], "title": "Log ratio (log 2)"}},
        "y2": {"field": "q3"}
      }
    },
    {
      "data": {"name": "boxes"},
      "mark": {"type": "tick", "color": "#222", "size": 16, "thickness": 1.3},
      "encoding": {
        "x": {"field": "gene", "type": "nominal", "sort": ["SERPINE1", "DUSP1", "TRIB1", "S100A10", "RDH12", "ANXA1", "GNAL"], "axis": null},
        "xOffset": {"field": "series", "type": "nominal", "sort": ["Exposed qRT-PCR", "Exposed Microarray", "Non-exposed qRT-PCR", "Non-exposed Microarray"]},
        "y": {"field": "med", "type": "quantitative", "axis": {"values": [-4, -2, 0, 2, 4], "title": "Log ratio (log 2)"}}
      }
    },
    {
      "data": {"values": [{}]},
      "mark": {"type": "rule", "color": "black", "strokeWidth": 3},
      "encoding": {"y": {"datum": 0}}
    },
    {
      "data": {"name": "outliers"},
      "mark": {"type": "point", "filled": true, "color": "black", "size": 7, "opacity": 1},
      "encoding": {
        "x": {"field": "gene", "type": "nominal", "sort": ["SERPINE1", "DUSP1", "TRIB1", "S100A10", "RDH12", "ANXA1", "GNAL"], "axis": null},
        "xOffset": {"field": "series", "type": "nominal", "sort": ["Exposed qRT-PCR", "Exposed Microarray", "Non-exposed qRT-PCR", "Non-exposed Microarray"]},
        "y": {"field": "value", "type": "quantitative", "axis": {"values": [-4, -2, 0, 2, 4], "title": "Log ratio (log 2)"}}
      }
    },
    {
      "data": {"name": "genes"},
      "mark": {"type": "bar", "color": "#555", "width": {"band": 0.97}},
      "encoding": {
        "x": {"field": "gene", "type": "nominal", "sort": ["SERPINE1", "DUSP1", "TRIB1", "S100A10", "RDH12", "ANXA1", "GNAL"], "axis": null},
        "y": {"datum": -4.48},
        "y2": {"datum": -4.52}
      }
    },
    {
      "data": {"name": "genes"},
      "mark": {"type": "rule", "color": "#555", "strokeWidth": 1.5},
      "encoding": {
        "x": {"field": "gene", "type": "nominal", "sort": ["SERPINE1", "DUSP1", "TRIB1", "S100A10", "RDH12", "ANXA1", "GNAL"], "axis": null, "bandPosition": 0.015},
        "y": {"datum": -4.36},
        "y2": {"datum": -4.64}
      }
    },
    {
      "data": {"name": "genes"},
      "mark": {"type": "rule", "color": "#555", "strokeWidth": 1.5},
      "encoding": {
        "x": {"field": "gene", "type": "nominal", "sort": ["SERPINE1", "DUSP1", "TRIB1", "S100A10", "RDH12", "ANXA1", "GNAL"], "axis": null, "bandPosition": 0.985},
        "y": {"datum": -4.36},
        "y2": {"datum": -4.64}
      }
    },
    {
      "data": {"name": "genes"},
      "mark": {"type": "text", "fontSize": 14, "font": "Liberation Sans", "color": "#111", "baseline": "middle"},
      "encoding": {
        "x": {"field": "gene", "type": "nominal", "sort": ["SERPINE1", "DUSP1", "TRIB1", "S100A10", "RDH12", "ANXA1", "GNAL"], "axis": null},
        "y": {"datum": -5.0},
        "text": {"field": "gene"}
      }
    },
    {
      "data": {"name": "legend"},
      "mark": {"type": "point", "opacity": 0},
      "encoding": {
        "fill": {
          "field": "item", "type": "nominal",
          "sort": ["qRT-PCR", "Microarray", "Exposed", "Non-exposed"],
          "scale": {"domain": ["qRT-PCR", "Microarray", "Exposed", "Non-exposed"], "range": ["#ffffff", "#ffffff", "#7f7f7f", "#ffffff"]},
          "legend": {
            "title": null, "orient": "none", "legendX": 58, "legendY": -121, "padding": 0,
            "symbolType": "M-1,-0.44H1V0.44H-1Z", "symbolSize": 625, "symbolStrokeColor": "black", "symbolStrokeWidth": 1, "symbolOpacity": 1,
            "labelFontSize": 18, "labelFont": "Liberation Sans", "labelColor": "black", "labelOffset": 19, "rowPadding": 10.7,
            "encode": {
              "symbols": {
                "update": {
                  "opacity": {"value": 1},
                  "fillOpacity": {"value": 1},
                  "stroke": {"value": "#111111"},
                  "strokeWidth": {"value": 1},
                  "strokeOpacity": {"value": 1}
                }
              }
            }
          }
        }
      }
    }
  ]
}
